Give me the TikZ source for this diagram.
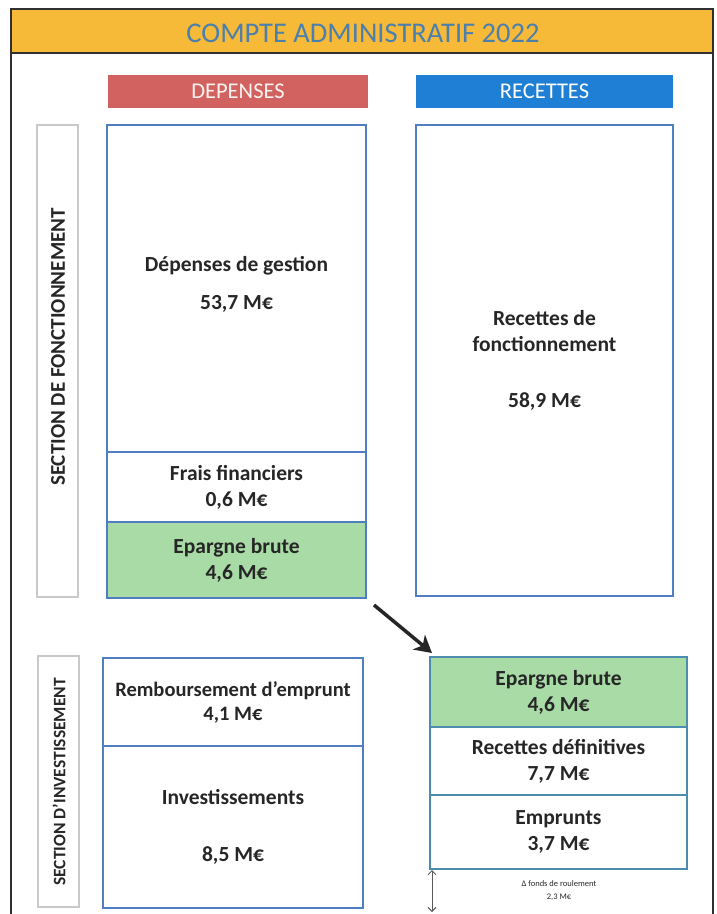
\documentclass[tikz,border=0pt]{standalone}
\usepackage{fontspec}
\setmainfont{Carlito}
\usetikzlibrary{positioning, arrows.meta}

\definecolor{hdrorange}{HTML}{F6B938}
\definecolor{titleblue}{HTML}{4A7FAE}
\definecolor{depred}{HTML}{D2625F}
\definecolor{recblue}{HTML}{1F7FD5}
\definecolor{boxblue}{HTML}{4F7FC2}
\definecolor{boxteal}{HTML}{4C8DAE}
\definecolor{savegreen}{HTML}{A8DBA6}
\definecolor{labgray}{HTML}{C9C9C9}
\definecolor{txtdark}{HTML}{262626}
\definecolor{framegray}{HTML}{303030}

\tikzset{
  fbox/.style={draw=boxblue, line width=2pt, anchor=north west, outer sep=0pt,
    inner sep=0pt, align=center, text=txtdark,
    font=\fontsize{21.5}{26}\selectfont\bfseries},
  ibox/.style={fbox, draw=boxteal, minimum width=257},
  colhead/.style={anchor=north west, outer sep=0pt, inner sep=0pt,
    minimum height=33, font=\fontsize{22.5}{26}\selectfont},
  seclabel/.style={rotate=90, inner sep=0pt, text=txtdark,
    font=\fontsize{21}{24}\selectfont\bfseries},
  smalltxt/.style={align=center, text=txtdark, inner sep=0pt,
    font=\fontsize{8.5}{13}\selectfont}
}

\begin{document}
\begin{tikzpicture}[x=1pt, y=-1pt]
    \useasboundingbox (0,0) rectangle (717,914);

    % Frame and title
    \fill[hdrorange] (11,9) rectangle (713,53);
    \draw[framegray, line width=2pt] (11,914) -- (11,9) -- (713,9) -- (713,914);
    \draw[framegray, line width=2pt] (11,53) -- (713,53);
    \node[text=titleblue, font=\fontsize{28.5}{30}\selectfont] (titre) at (363,33) {COMPTE ADMINISTRATIF 2022};

    % Column headers
    \node[colhead, fill=depred, text=white!92!depred, minimum width=260] (depenses) at (108,75) {DEPENSES};
    \node[colhead, fill=recblue, text=white, minimum width=257] (recettes) at (416,75) {RECETTES};

    % Section labels
    \draw[labgray, line width=1.2pt] (37,125) rectangle (78,597);
    \node[seclabel] (secfonc) at (58,347) {SECTION DE FONCTIONNEMENT};
    \draw[labgray, line width=1.2pt] (38,656) rectangle (79,907);
    \node[seclabel, font=\fontsize{17.5}{20}\selectfont\bfseries] (secinv) at (59,782) {SECTION D'INVESTISSEMENT};

    % Fonctionnement
    \node[fbox, minimum width=259, minimum height=327] (gestion) at (107,125) {Dépenses de gestion\\[12pt]53,7 M€\\[-14pt]\mbox{}};
    \node[fbox, minimum width=259, minimum height=70, below=0pt of gestion] (frais) {Frais financiers\\0,6 M€};
    \node[fbox, fill=savegreen, minimum width=259, minimum height=76, below=0pt of frais] (epargne) {Epargne brute\\4,6 M€};
    \node[fbox, minimum width=257, minimum height=471] (recfonc) at (416,125) {Recettes de\\fonctionnement\\[30pt]58,9 M€};

    % Investissement
    \node[fbox, minimum width=260, minimum height=88, font=\fontsize{20.5}{24}\selectfont\bfseries] (rembours) at (103,658) {Remboursement d'emprunt\\4,1 M€};
    \node[fbox, minimum width=260, minimum height=162, below=0pt of rembours] (invest) {Investissements\\[31pt]8,5 M€};
    \node[ibox, fill=savegreen, minimum height=70] (epargne2) at (430,657) {Epargne brute\\4,6 M€};
    \node[ibox, minimum height=68, below=0pt of epargne2] (recdef) {Recettes définitives\\7,7 M€};
    \node[ibox, minimum height=74, below=0pt of recdef] (emprunts) {Emprunts\\3,7 M€};

    % Transfer of epargne brute
    \draw[-{Stealth[length=17pt, width=19pt, inset=5pt]}, line width=3.5pt, txtdark] ([xshift=8pt, yshift=-7pt]epargne.south east) -- ([xshift=2pt, yshift=4pt]epargne2.north west);

    % Fonds de roulement
    \coordinate (frbas) at (432,912);
    \draw[{Straight Barb[length=4pt, width=8pt]}-{Straight Barb[length=4pt, width=8pt]}, gray!70!black, line width=1pt] ([xshift=2pt, yshift=-1pt]emprunts.south west) -- (frbas);
    \node[smalltxt] (fdr) at (559,891) {Δ fonds de roulement\\2,3 M€};
\end{tikzpicture}
\end{document}
